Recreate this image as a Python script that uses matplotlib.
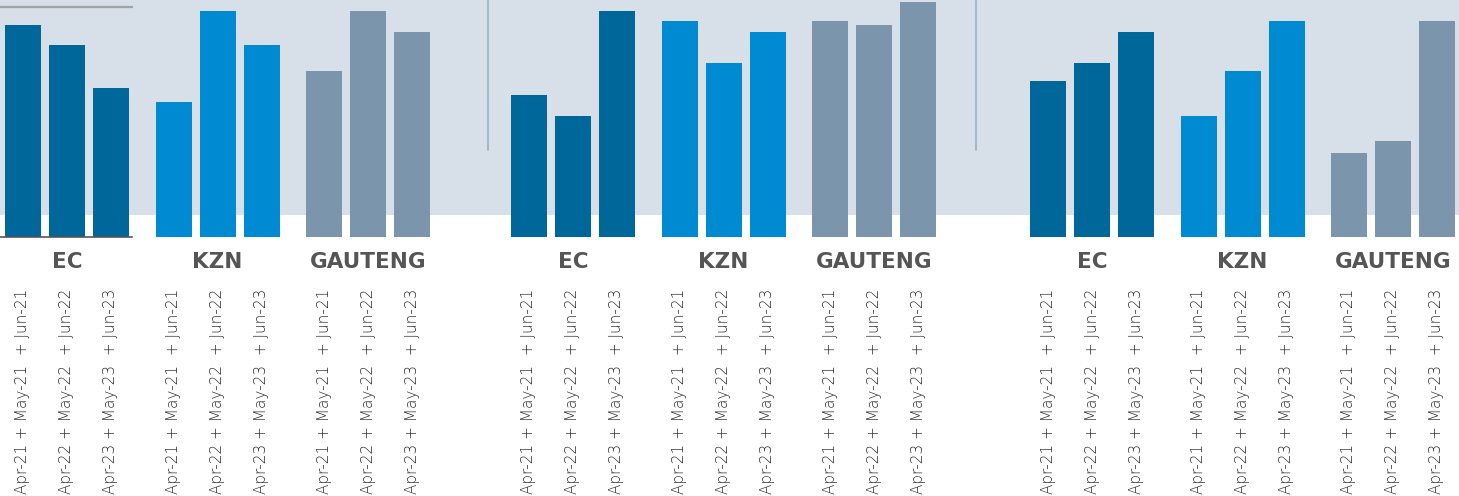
import matplotlib
matplotlib.use("Agg")
import matplotlib.pyplot as plt

# valores (altura relativa das barras)
regioes = ["EC", "KZN", "GAUTENG"]
periodos = ["Apr-21 + May-21  + Jun-21",
            "Apr-22 + May-22  + Jun-22",
            "Apr-23 + May-23  + Jun-23"]
painel1 = [[212, 192, 149], [135, 226, 192], [166, 226, 205]]
painel2 = [[142, 121, 226], [216, 174, 205], [216, 212, 235]]
painel3 = [[156, 174, 205], [121, 166, 216], [84, 96, 216]]
paineis = [painel1, painel2, painel3]

cores = ["#00679b", "#008ad2", "#7b95ad"]
fundo = "#d7dfe8"

fig = plt.figure(figsize=(14.59, 4.96), dpi=100)
ax = fig.add_axes([0, 0, 1, 1])
ax.set_xlim(0, 1459)
ax.set_ylim(-259, 237)
ax.axis("off")

# faixa de fundo
ax.axhspan(22, 237, color=fundo, zorder=0, lw=0)

# separadores verticais e linhas do primeiro bloco
for xs in [488, 976]:
    ax.plot([xs, xs], [87, 237], color="#9fb4c7", lw=1.3, zorder=1)
ax.plot([0, 132], [230, 230], color="#a0a4a8", lw=1.6, zorder=1)
ax.plot([0, 132], [0.3, 0.3], color="#555555", lw=1.2, zorder=3)

inicio_painel = [5, 511, 1030]
passo_grupo = 150.5
passo_barra = 44
largura = 36

for p, dados in enumerate(paineis):
    for g, valores in enumerate(dados):
        x0 = inicio_painel[p] + g * passo_grupo + largura / 2
        xs = [x0 + b * passo_barra for b in range(len(valores))]
        ax.bar(xs, valores, width=largura, color=cores[g], zorder=2, lw=0)
        ax.text(xs[1], -25, regioes[g], ha="center", va="center",
                fontsize=15.5, fontweight="bold", color="#555555",
                family="DejaVu Sans")
        for x, rot in zip(xs, periodos):
            ax.text(x, -52, rot, rotation=90, ha="center", va="top",
                    fontsize=11, color="#2e2e2e", fontweight="light",
                    family="DejaVu Sans")

fig.savefig("out.png", dpi=100)
